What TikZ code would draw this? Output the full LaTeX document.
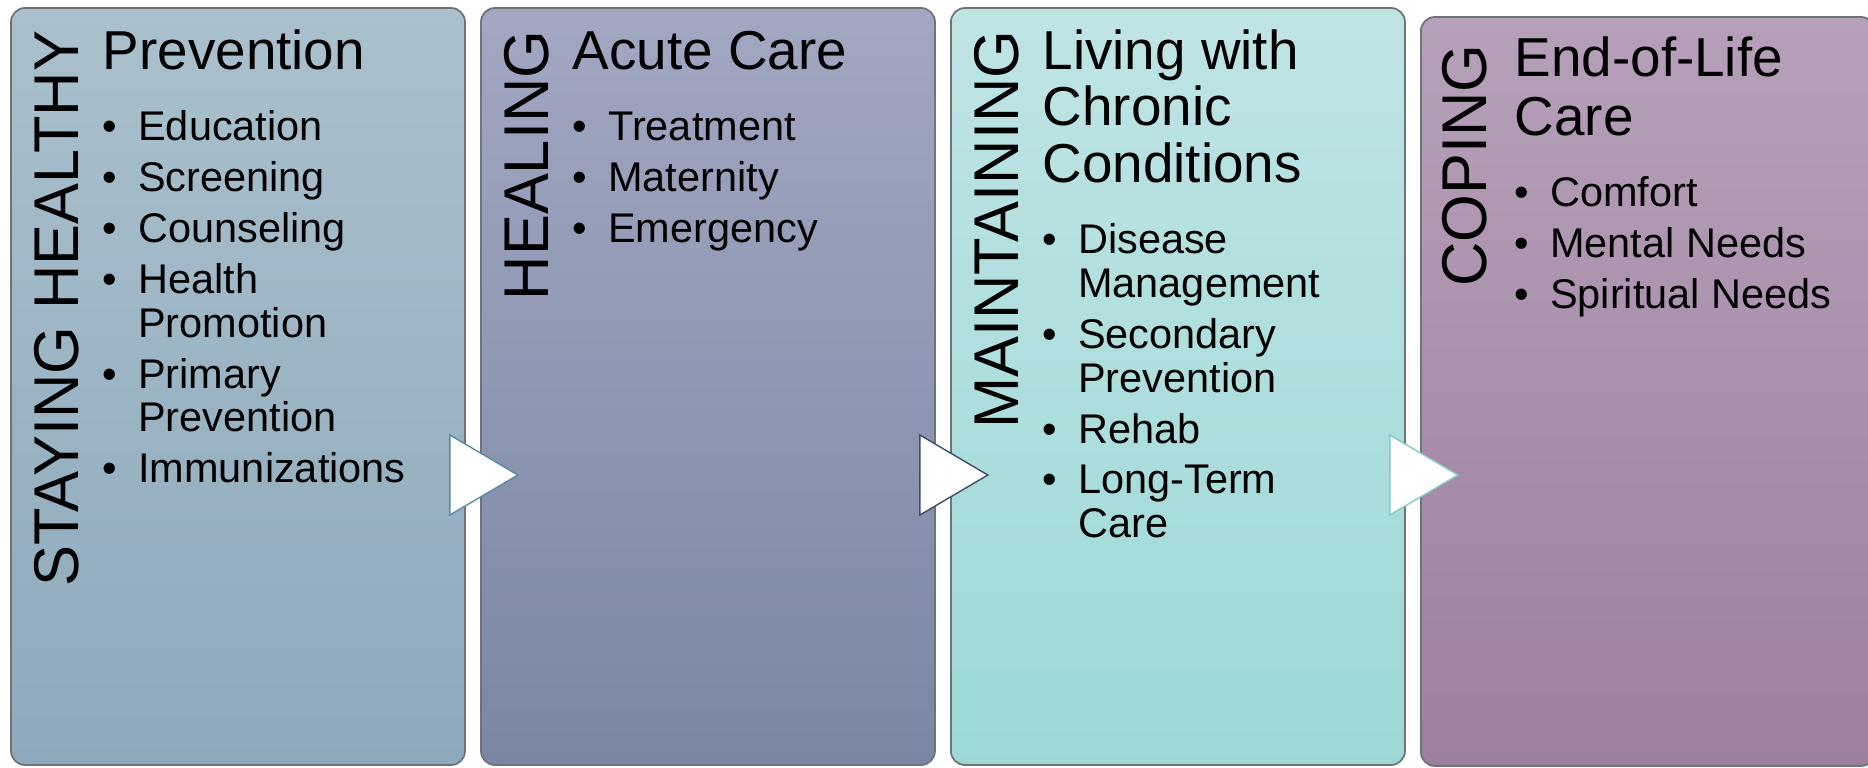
\documentclass[tikz,border=0pt]{standalone}
\usepackage{fontspec}
\setmainfont{Liberation Sans}
\usepackage{graphicx}
\usetikzlibrary{positioning, calc}
\definecolor{healthytop}{HTML}{AAC0CD}
\definecolor{healthybot}{HTML}{8DA9BB}
\definecolor{healingtop}{HTML}{A2A7C2}
\definecolor{healingbot}{HTML}{7A86A3}
\definecolor{maintaintop}{HTML}{BFE4E4}
\definecolor{maintainbot}{HTML}{9CD9D6}
\definecolor{copingtop}{HTML}{B6A0B9}
\definecolor{copingbot}{HTML}{9D7FA0}
\definecolor{edge}{HTML}{6E737A}
\definecolor{flowA}{HTML}{5A8BA5}
\definecolor{flowB}{HTML}{3E4D6E}
\definecolor{flowC}{HTML}{86C9C9}
\tikzset{
  stage/.style={rectangle, rounded corners=0.14cm, minimum width=4.54cm, minimum height=7.57cm, draw=edge, line width=0.5pt},
  phase/.style={rotate=90, anchor=base east, inner sep=0pt, font=\fontsize{18pt}{18pt}\selectfont},
  topic/.style={anchor=base west, inner sep=0pt, font=\fontsize{15.6pt}{15.9pt}\selectfont},
  points/.style={anchor=north west, inner sep=0pt, font=\fontsize{11.8pt}{12.5pt}\selectfont},
  flow/.style={fill=white, line width=0.4pt, line join=miter}
}

\begin{document}
\begin{tikzpicture}
\useasboundingbox (0,0) rectangle (18.68,7.67);

% the four stages
\node[stage, top color=healthytop, bottom color=healthybot] (s1) at (2.38,3.805) {};
\node[stage, top color=healingtop, bottom color=healingbot, right=0.142cm of s1] (s2) {};
\node[stage, top color=maintaintop, bottom color=maintainbot, right=0.142cm of s2] (s3) {};
\node[stage, top color=copingtop, bottom color=copingbot, minimum height=7.49cm, right=0.142cm of s3, yshift=-0.05cm] (s4) {};

% vertical stage names
\node[phase] (t1) at ($(s1.north west)+(0.68,-0.23)$) {\scalebox{0.97}[1]{STAYING HEALTHY}};
\node[phase] (t2) at ($(s2.north west)+(0.68,-0.23)$) {\scalebox{0.97}[1]{HEALING}};
\node[phase] (t3) at ($(s3.north west)+(0.68,-0.23)$) {\scalebox{0.97}[1]{MAINTAINING}};
\node[phase] (t4) at ($(s4.north west)+(0.66,-0.28)$) {\scalebox{0.97}[1]{COPING}};

% headings (top-aligned, so the base is the first line)
\node[topic] (h1) at ($(s1.north west)+(0.92,-0.62)$) {\begin{tabular}[t]{@{}l@{}}Prevention\end{tabular}};
\node[topic] (h2) at ($(s2.north west)+(0.92,-0.62)$) {\begin{tabular}[t]{@{}l@{}}Acute Care\end{tabular}};
\node[topic] (h3) at ($(s3.north west)+(0.92,-0.62)$) {\begin{tabular}[t]{@{}l@{}}Living with\\Chronic\\Conditions\end{tabular}};
\node[topic] (h4) at ($(s4.north west)+(0.94,-0.60)$) {\begin{tabular}[t]{@{}l@{}}End-of-Life\\[1pt]Care\end{tabular}};

% bullet lists
\node[below=0.222cm of h1.south west, points] (l1) {\begin{tabular}[t]{@{}p{0.355cm}@{}l@{}}
\textbullet & Education\\[2pt]
\textbullet & Screening\\[2pt]
\textbullet & Counseling\\[2pt]
\textbullet & Health\\ & Promotion\\[2pt]
\textbullet & Primary\\ & Prevention\\[2pt]
\textbullet & Immunizations
\end{tabular}};
\node[below=0.222cm of h2.south west, points] (l2) {\begin{tabular}[t]{@{}p{0.355cm}@{}l@{}}
\textbullet & Treatment\\[2pt]
\textbullet & Maternity\\[2pt]
\textbullet & Emergency
\end{tabular}};
\node[below=0.222cm of h3.south west, points] (l3) {\begin{tabular}[t]{@{}p{0.355cm}@{}l@{}}
\textbullet & Disease\\ & Management\\[2pt]
\textbullet & Secondary\\ & Prevention\\[2pt]
\textbullet & Rehab\\[2pt]
\textbullet & Long-Term\\ & Care
\end{tabular}};
\node[below=0.222cm of h4.south west, points] (l4) {\begin{tabular}[t]{@{}p{0.355cm}@{}l@{}}
\textbullet & Comfort\\[2pt]
\textbullet & Mental Needs\\[2pt]
\textbullet & Spiritual Needs
\end{tabular}};

% arrows between stages
\draw[flow, draw=flowA] ($(s1.east)+(-0.16,-0.485)$) -- ++(0.68,-0.40) -- ++(-0.68,-0.40) -- cycle;
\draw[flow, draw=flowB] ($(s2.east)+(-0.16,-0.485)$) -- ++(0.68,-0.40) -- ++(-0.68,-0.40) -- cycle;
\draw[flow, draw=flowC] ($(s3.east)+(-0.16,-0.485)$) -- ++(0.68,-0.40) -- ++(-0.68,-0.40) -- cycle;
\end{tikzpicture}
\end{document}
